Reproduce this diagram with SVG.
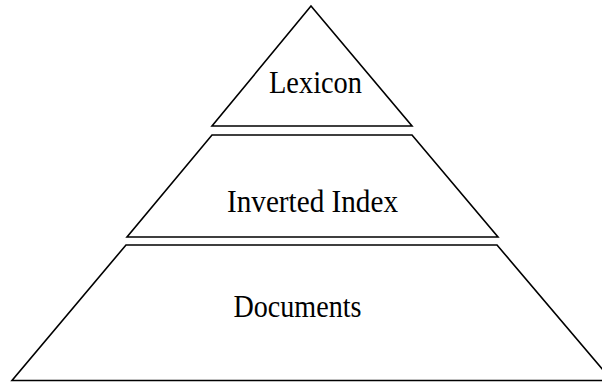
<svg xmlns="http://www.w3.org/2000/svg" width="602" height="382" viewBox="0 0 602 382">
<style>
.tier{fill:#fff;stroke:#000;stroke-width:1.6;stroke-linejoin:miter}
.lbl{font-family:"Liberation Serif","Times New Roman",serif;font-size:32px;fill:#000;text-anchor:middle}
</style>
<rect width="602" height="382" fill="#fff"/>
<g id="lexicon">
<polygon class="tier" points="311,6 412,126 212,126"/>
<text class="lbl" x="315.5" y="93" textLength="93" lengthAdjust="spacingAndGlyphs">Lexicon</text>
</g>
<g id="inverted-index">
<polygon class="tier" points="212,135 412,135 498,237 127,237"/>
<text class="lbl" x="312.5" y="212" textLength="171" lengthAdjust="spacingAndGlyphs">Inverted Index</text>
</g>
<g id="documents">
<polygon class="tier" points="126,245 497,245 612,380.5 12,380.5"/>
<text class="lbl" x="297.5" y="317" textLength="128" lengthAdjust="spacingAndGlyphs">Documents</text>
</g>
<g id="connectors"></g>
</svg>
